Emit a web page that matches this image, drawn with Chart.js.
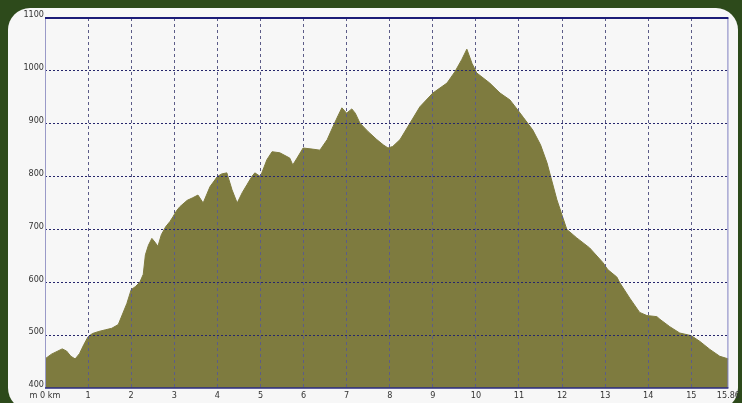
<!DOCTYPE html>
<html>
<head>
<meta charset="utf-8">
<script src="https://cdn.jsdelivr.net/npm/chart.js@4"></script>
<style>
  html, body { margin: 0; padding: 0; }
  body { width: 742px; height: 403px; background: #2d4a1b; position: relative; overflow: hidden; }
  #panel { position: absolute; left: 8px; top: 8px; width: 730px; height: 402px; background: #f7f7f7; border-radius: 22px; }
  #profile { position: absolute; left: 0; top: 0; }
</style>
</head>
<body>
<div id="panel"></div>
<canvas id="profile" width="742" height="403"></canvas>
<script>
"use strict";

// distance along the track (km) and elevation (m)
const distKm = [0, 0.15, 0.3, 0.4, 0.5, 0.6, 0.7, 0.8, 0.9, 1.0, 1.1, 1.25, 1.4, 1.55, 1.7, 1.8, 1.9, 2.0,
  2.1, 2.2, 2.28, 2.33, 2.4, 2.48, 2.55, 2.62, 2.7, 2.8, 2.9, 2.97, 3.05, 3.13, 3.3, 3.43, 3.55, 3.67,
  3.83, 4.0, 4.1, 4.22, 4.34, 4.46, 4.58, 4.69, 4.8, 4.87, 5.0, 5.15, 5.27, 5.45, 5.68, 5.75, 5.85,
  5.99, 6.2, 6.38, 6.55, 6.68, 6.8, 6.89, 7.0, 7.12, 7.2, 7.31, 7.5, 7.7, 7.85, 7.96, 8.07, 8.24,
  8.47, 8.7, 9.0, 9.33, 9.51, 9.67, 9.79, 9.91, 10.02, 10.32, 10.56, 10.79, 10.97, 11.1, 11.32, 11.5,
  11.65, 11.88, 12.11, 12.34, 12.64, 12.95, 13.06, 13.27, 13.34, 13.57, 13.8, 13.97, 14.2, 14.27,
  14.5, 14.73, 15.0, 15.2, 15.43, 15.66, 15.86];
const elevM = [455, 464, 470, 474, 470, 460, 455, 465, 482, 497, 503, 507, 510, 513, 520, 540, 560, 586,
  592, 600, 615, 652, 670, 683, 676, 668, 690, 705, 715, 724, 735, 743, 755, 760, 765, 750,
  781, 800, 805, 807, 775, 750, 770, 785, 800, 807, 800, 832, 847, 845, 835, 822, 835,
  854, 852, 850, 870, 894, 915, 930, 920, 928, 920, 901, 885, 870, 860, 854, 857, 870,
  901, 932, 958, 977, 998, 1021, 1041, 1014, 996, 977, 958, 945, 926, 912, 888, 860,
  826, 756, 700, 684, 665, 637, 624, 610, 599, 570, 543, 537, 535, 530,
  516, 504, 499, 488, 473, 460, 455];

const kmTicks = [0, 1, 2, 3, 4, 5, 6, 7, 8, 9, 10, 11, 12, 13, 14, 15, 15.86];
const elevTicks = [400, 500, 600, 700, 800, 900, 1000, 1100];

const points = [];
for (let i = 0; i < distKm.length; i++) {
  points.push({ x: distKm[i], y: elevM[i] });
}

const tickFont = { family: "'Liberation Sans Narrow', 'Arial Narrow', 'DejaVu Sans Condensed', sans-serif", size: 9 };

// solid frame around the plot, drawn last
const framePlugin = {
  id: "frame",
  afterDraw(chart) {
    const a = chart.chartArea;
    const ctx = chart.ctx;
    ctx.save();
    ctx.lineWidth = 1;
    ctx.strokeStyle = "#9a9ac8";
    ctx.beginPath(); ctx.moveTo(a.left + 0.5, a.top); ctx.lineTo(a.left + 0.5, a.bottom); ctx.stroke();
    ctx.strokeStyle = "#7f7fc0";
    ctx.beginPath(); ctx.moveTo(a.right - 0.5, a.top); ctx.lineTo(a.right - 0.5, a.bottom); ctx.stroke();
    ctx.strokeStyle = "#1c1c78";
    ctx.lineWidth = 2;
    ctx.beginPath(); ctx.moveTo(a.left, a.top); ctx.lineTo(a.right, a.top); ctx.stroke();
    ctx.lineWidth = 1.5;
    ctx.strokeStyle = "#2a2a80";
    ctx.beginPath(); ctx.moveTo(a.left, a.bottom); ctx.lineTo(a.right, a.bottom); ctx.stroke();
    ctx.restore();
  }
};

const config = {
  type: "line",
  data: {
    datasets: [{
      data: points,
      borderColor: "#7e7b3f",
      backgroundColor: "#7e7b3f",
      borderWidth: 1,
      pointRadius: 0,
      tension: 0,
      fill: "start"
    }]
  },
  options: {
    responsive: false,
    animation: false,
    events: [],
    layout: { padding: { top: 18, right: 13, left: 0, bottom: 0 } },
    plugins: { legend: { display: false }, tooltip: { enabled: false } },
    scales: {
      x: {
        type: "linear",
        min: 0,
        max: 15.86,
        afterBuildTicks: s => { s.ticks = kmTicks.map(v => ({ value: v })); },
        afterFit: s => { s.height = 15; },
        ticks: {
          autoSkip: false,
          maxRotation: 0,
          padding: 2,
          color: "#333",
          font: tickFont,
          callback: v => (v === 0 ? "m 0 km" : String(v))
        },
        grid: {
          z: 1,
          drawTicks: false,
          color: c => (c.tick && (c.tick.value === 0 || c.tick.value === 15.86) ? "rgba(0,0,0,0)" : "#5c5c88"),
          lineWidth: 1
        },
        border: { display: false, dash: [3, 3] }
      },
      y: {
        min: 400,
        max: 1100,
        afterBuildTicks: s => { s.ticks = elevTicks.map(v => ({ value: v })); },
        afterFit: s => { s.width = 45; },
        ticks: {
          padding: 1,
          labelOffset: -3,
          color: "#333",
          font: tickFont,
          callback: v => String(v)
        },
        grid: {
          z: 1,
          drawTicks: false,
          color: c => (c.tick && (c.tick.value === 400 || c.tick.value === 1100) ? "rgba(0,0,0,0)" : "#26266c"),
          lineWidth: 1
        },
        border: { display: false, dash: [2, 2] }
      }
    }
  },
  plugins: [framePlugin]
};

const profileChart = new Chart(document.getElementById("profile"), config);
</script>
</body>
</html>
